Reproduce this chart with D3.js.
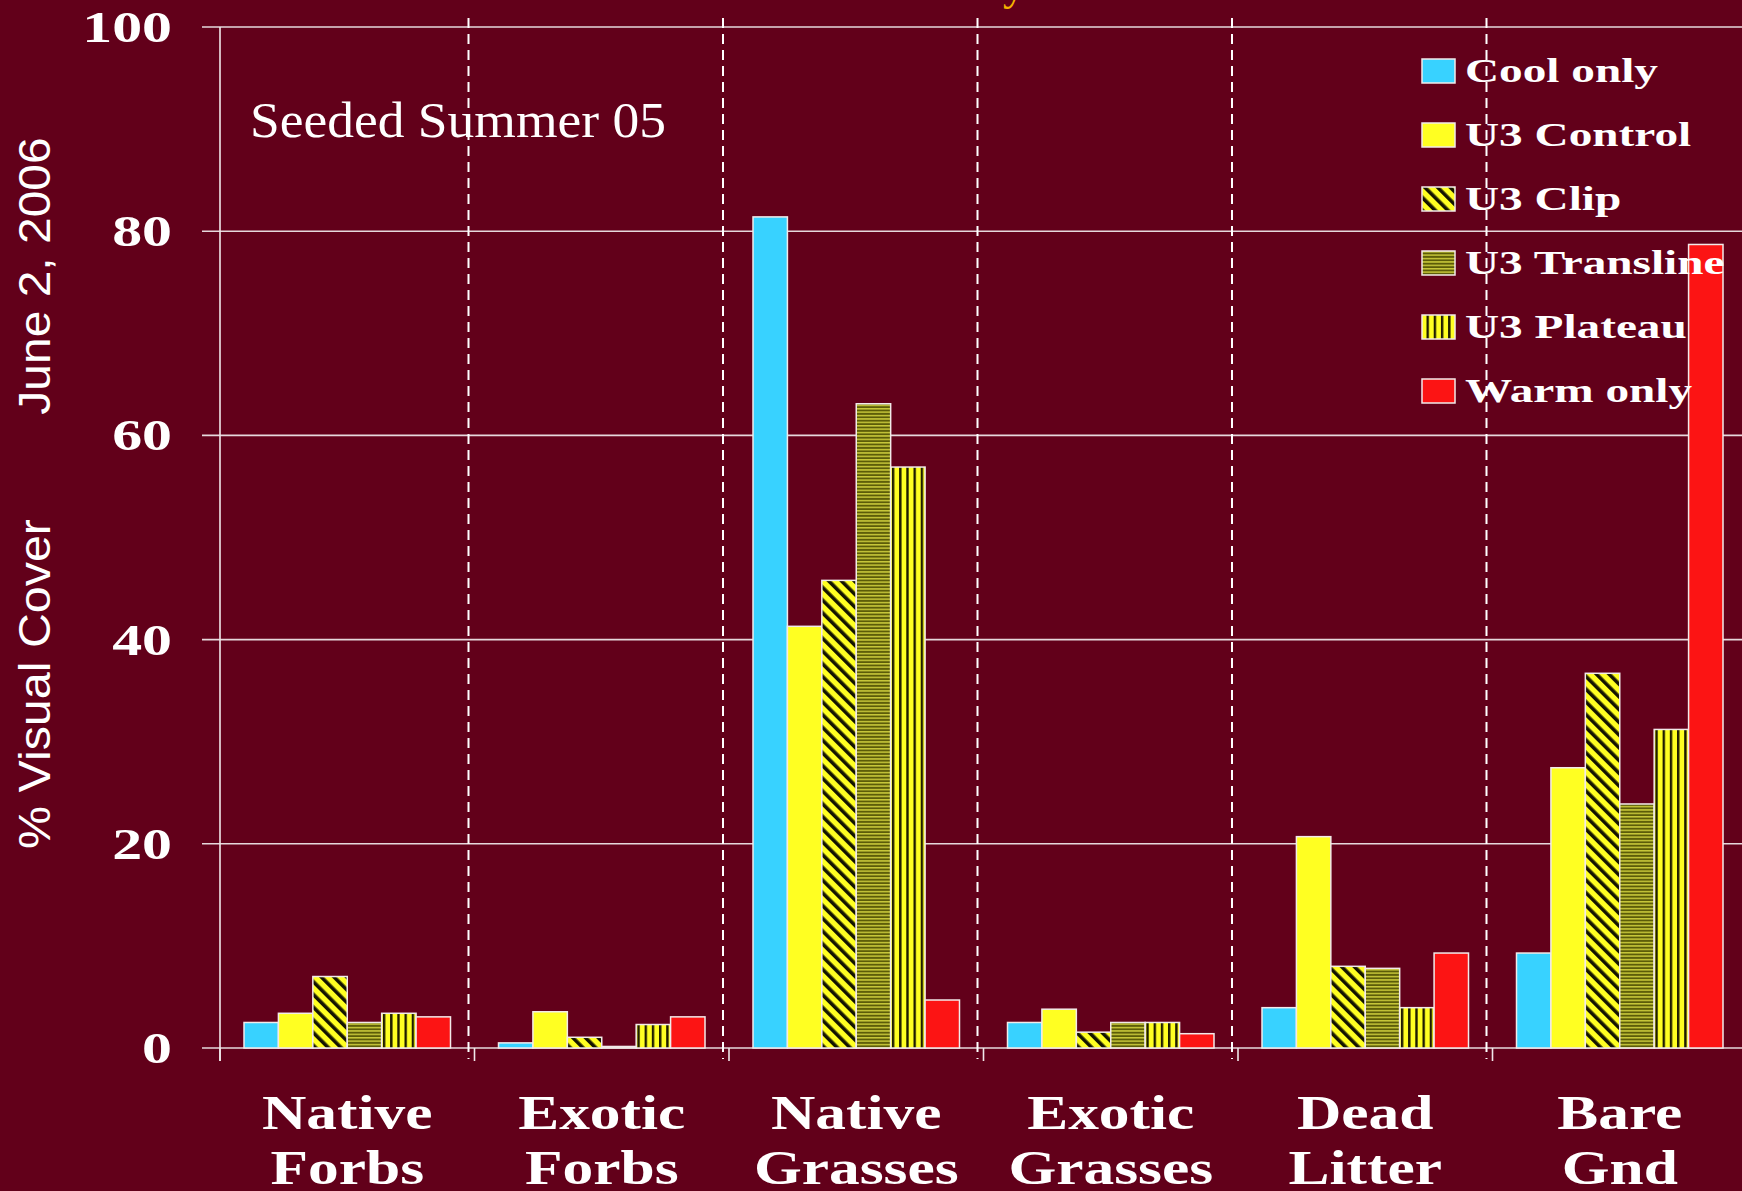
<!DOCTYPE html>
<html>
<head>
<meta charset="utf-8">
<script src="https://cdn.jsdelivr.net/npm/d3@7"></script>
<style>
body { margin: 0; background: #62001a; }
svg { display: block; }
</style>
</head>
<body>
<script>
// values (% visual cover)
var categories = [["Native", "Forbs"], ["Exotic", "Forbs"], ["Native", "Grasses"], ["Exotic", "Grasses"], ["Dead", "Litter"], ["Bare", "Gnd"]];
var seriesNames = ["Cool only", "U3 Control", "U3 Clip", "U3 Transline", "U3 Plateau", "Warm only"];
var coolOnly = [2.5, 0.5, 81.4, 2.5, 3.95, 9.3];
var u3Control = [3.4, 3.55, 41.3, 3.8, 20.7, 27.45];
var u3Clip = [7.0, 1.05, 45.8, 1.55, 8.0, 36.7];
var u3Transline = [2.5, 0.15, 63.1, 2.5, 7.8, 23.9];
var u3Plateau = [3.4, 2.3, 56.9, 2.5, 3.95, 31.2];
var warmOnly = [3.05, 3.05, 4.7, 1.4, 9.3, 78.7];
var yTicks = [0, 20, 40, 60, 80, 100];

var series = [coolOnly, u3Control, u3Clip, u3Transline, u3Plateau, warmOnly];
var fills = ["#38d2ff", "#ffff22", "url(#pClip)", "url(#pTrans)", "url(#pPlat)", "#fc1414"];

var W = 1742, H = 1191;
var serif = "'Liberation Serif', 'Times New Roman', serif";
var sans = "'Liberation Sans', Arial, sans-serif";

var svg = d3.select("body").append("svg").attr("width", W).attr("height", H);
svg.append("rect").attr("width", W).attr("height", H).attr("fill", "#62001a");

var defs = svg.append("defs");
var clip = defs.append("pattern").attr("id", "pClip").attr("patternUnits", "userSpaceOnUse")
  .attr("width", 9).attr("height", 9).attr("patternTransform", "rotate(-45)");
clip.append("rect").attr("width", 9).attr("height", 9).attr("fill", "#ffff22");
clip.append("rect").attr("width", 3.6).attr("height", 9).attr("fill", "#141400");

var trans = defs.append("pattern").attr("id", "pTrans").attr("patternUnits", "userSpaceOnUse")
  .attr("width", 8).attr("height", 3.4);
trans.append("rect").attr("width", 8).attr("height", 3.4).attr("fill", "#5c5c08");
trans.append("rect").attr("width", 8).attr("height", 1.5).attr("fill", "#c8c83a");

var plat = defs.append("pattern").attr("id", "pPlat").attr("patternUnits", "userSpaceOnUse")
  .attr("width", 7.2).attr("height", 8);
plat.append("rect").attr("width", 7.2).attr("height", 8).attr("fill", "#ffff22");
plat.append("rect").attr("x", 4.5).attr("width", 2.4).attr("height", 8).attr("fill", "#1e1c00");

// scales
var x0 = d3.scaleBand().domain(d3.range(categories.length)).range([220, 1747]);
var x1 = d3.scaleBand().domain(d3.range(seriesNames.length)).range([24, x0.bandwidth() - 24]);
var y = d3.scaleLinear().domain([0, 100]).range([1048, 27]);

// gridlines + y ticks
svg.append("g").selectAll("line").data(yTicks).enter().append("line")
  .attr("x1", 202).attr("x2", W)
  .attr("y1", function (d) { return y(d); }).attr("y2", function (d) { return y(d); })
  .attr("stroke", "#e6d8dc").attr("stroke-width", 1.6);

svg.append("g").selectAll("text").data(yTicks).enter().append("text")
  .attr("transform", function (d) { return "translate(172," + (y(d) + 15) + ") scale(1.36,1)"; })
  .attr("text-anchor", "end").attr("fill", "#fff")
  .style("font-family", serif).style("font-weight", "bold").style("font-size", "44px")
  .text(function (d) { return d; });

// y axis line
svg.append("line").attr("x1", 220).attr("x2", 220).attr("y1", y(100)).attr("y2", 1061)
  .attr("stroke", "#f0e8ea").attr("stroke-width", 1.6);

// category ticks below baseline
svg.append("g").selectAll("line").data(d3.range(categories.length)).enter().append("line")
  .attr("x1", function (d) { return x0(d); }).attr("x2", function (d) { return x0(d); })
  .attr("y1", y(0)).attr("y2", 1061)
  .attr("stroke", "#f0e8ea").attr("stroke-width", 1.6);

// dashed dividers between categories
svg.append("g").selectAll("line").data(d3.range(1, categories.length)).enter().append("line")
  .attr("x1", function (d) { return x0(d) - 6; }).attr("x2", function (d) { return x0(d) - 6; })
  .attr("y1", 18).attr("y2", 1059)
  .attr("stroke", "#fff").attr("stroke-width", 2).attr("stroke-dasharray", "10,6");

// bars
var groups = svg.append("g").selectAll("g").data(categories).enter().append("g")
  .attr("transform", function (d, i) { return "translate(" + x0(i) + ",0)"; });
groups.selectAll("rect").data(function (d, i) {
  return series.map(function (s, j) { return { s: j, v: s[i] }; });
}).enter().append("rect")
  .attr("x", function (d) { return x1(d.s); })
  .attr("width", x1.bandwidth())
  .attr("y", function (d) { return y(d.v); })
  .attr("height", function (d) { return y(0) - y(d.v); })
  .attr("fill", function (d) { return fills[d.s]; })
  .attr("stroke", "#f2eaea").attr("stroke-width", 1.5);

// category labels
var cl = svg.append("g").selectAll("g").data(categories).enter().append("g")
  .attr("transform", function (d, i) { return "translate(" + (x0(i) + x0.bandwidth() / 2) + ",0)"; });
cl.each(function (d) {
  var g = d3.select(this);
  d.forEach(function (t, k) {
    g.append("text").attr("transform", "translate(0," + (1129 + k * 55) + ") scale(1.28,1)")
      .attr("text-anchor", "middle").attr("fill", "#fff")
      .style("font-family", serif).style("font-weight", "bold").style("font-size", "48px")
      .text(t);
  });
});

// y axis titles
svg.append("text").attr("transform", "translate(50,684) rotate(-90) scale(1.1,1)")
  .attr("text-anchor", "middle").attr("fill", "#fff")
  .style("font-family", sans).style("font-size", "44px").text("% Visual Cover");
svg.append("text").attr("transform", "translate(50,276) rotate(-90) scale(1.09,1)")
  .attr("text-anchor", "middle").attr("fill", "#fff")
  .style("font-family", sans).style("font-size", "44px").text("June 2, 2006");

// note
svg.append("text").attr("transform", "translate(250,137) scale(1.07,1)")
  .attr("fill", "#fff").style("font-family", serif).style("font-size", "50px")
  .text("Seeded Summer 05");

// title remnant cut off at the top
svg.append("text").attr("x", 1003).attr("y", 0).attr("fill", "#f5b400")
  .style("font-family", serif).style("font-size", "44px").text("y");

// legend
var leg = svg.append("g").selectAll("g").data(seriesNames).enter().append("g")
  .attr("transform", function (d, i) { return "translate(1422," + (59 + i * 64) + ")"; });
leg.append("rect").attr("width", 33).attr("height", 24)
  .attr("fill", function (d, i) { return fills[i]; })
  .attr("stroke", "#f2eaea").attr("stroke-width", 1.5);
leg.append("text").attr("transform", "translate(43,23) scale(1.39,1)")
  .attr("fill", "#fff").style("font-family", serif).style("font-weight", "bold").style("font-size", "34px")
  .text(function (d) { return d; });
</script>
</body>
</html>
